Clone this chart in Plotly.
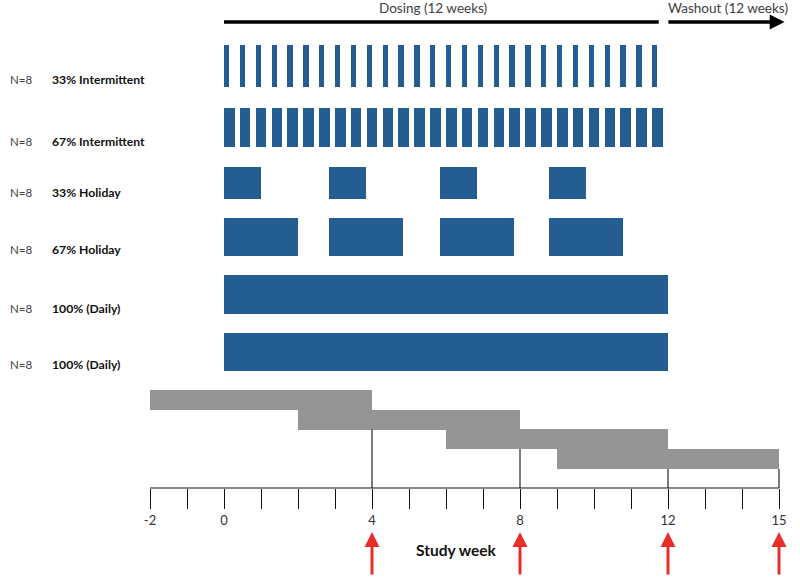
import plotly.graph_objects as go

# ---------------- data ----------------
groups = ["33% Intermittent", "67% Intermittent", "33% Holiday", "67% Holiday",
          "100% (Daily)", "100% (Daily)"]
group_n = ["N=8", "N=8", "N=8", "N=8", "N=8", "N=8"]

# intermittent dosing: dose start day (one cycle every 3 days over 12 weeks)
int_start_day = [0, 3, 6, 9, 12, 15, 18, 21, 24, 27, 30, 33, 36, 39,
                 42, 45, 48, 51, 54, 57, 60, 63, 66, 69, 72, 75, 78, 81]
int33_len_day = 1
int67_len_day = 2

# holiday dosing: block start week and block length (weeks)
hol_start_wk = [0, 2.85, 5.84, 8.79]
hol33_len_wk = [1, 1, 1, 1]
hol67_len_wk = [2, 2, 2, 2]

# daily dosing
daily_start_wk = [0]
daily_len_wk = [12]

# study-week staircase (grey): start and end weeks
stair_start = [-2, 2, 6, 9]
stair_end = [4, 8, 12, 15]

# axis ticks
tick_vals = list(range(-2, 16))
tick_labels = ["-2", "", "0", "", "", "", "4", "", "", "", "8", "", "", "", "12", "", "", "15"]

# visit weeks (red arrows)
visit_weeks = [4, 8, 12, 15]

# period spans (weeks)
dosing_span = [0, 11.75]
washout_span = [11.97, 15.15]
period_labels = ["Dosing (12 weeks)", "Washout (12 weeks)"]
period_label_x = [5.66, 13.61]

# ---------------- layout constants (pixel-like y units) ----------------
W, H = 800, 578
PX_PER_WK = 37.0
X0_PX = 224.0
x_range = [-X0_PX / PX_PER_WK, (W - X0_PX) / PX_PER_WK]

row_center = [66, 127.5, 183, 237, 294.5, 352]
row_height = [42, 39, 32, 38, 39, 38]
label_y = [79, 141, 192, 249, 308, 364]
stair_center = [400, 419.5, 439, 459]
stair_height = 20
axis_y = 488
arrow_tip_y, arrow_base_y = 532, 576
top_line_y = 22

BLUE = "#245d91"
GREY = "#959595"
FONT = "Lato"

fig = go.Figure()

def add_bars(starts, lengths, row):
    fig.add_trace(go.Bar(
        orientation="h", base=starts, x=lengths,
        y=[row_center[row]] * len(starts), width=row_height[row],
        marker=dict(color=BLUE, line=dict(width=0)),
        showlegend=False, hoverinfo="skip"))

add_bars([d / 7 for d in int_start_day], [int33_len_day / 7] * len(int_start_day), 0)
add_bars([d / 7 for d in int_start_day], [int67_len_day / 7] * len(int_start_day), 1)
add_bars(hol_start_wk, hol33_len_wk, 2)
add_bars(hol_start_wk, hol67_len_wk, 3)
add_bars(daily_start_wk, daily_len_wk, 4)
add_bars(daily_start_wk, daily_len_wk, 5)

# grey staircase
fig.add_trace(go.Bar(
    orientation="h", base=stair_start,
    x=[e - s for s, e in zip(stair_start, stair_end)],
    y=stair_center, width=stair_height,
    marker=dict(color=GREY, line=dict(width=0)),
    showlegend=False, hoverinfo="skip"))

shapes = []
# axis line
shapes.append(dict(type="line", xref="x", yref="y", x0=tick_vals[0], x1=tick_vals[-1],
                   y0=axis_y, y1=axis_y, line=dict(color="#111", width=1.2)))
# vertical drop lines at end of each stair step
for e in stair_end:
    bottoms = [c + stair_height / 2 for s, en, c in zip(stair_start, stair_end, stair_center)
               if s <= e <= en]
    shapes.append(dict(type="line", xref="x", yref="y", x0=e, x1=e,
                       y0=max(bottoms), y1=axis_y, line=dict(color="#111", width=1.1)))
# dosing line
shapes.append(dict(type="line", xref="x", yref="y", x0=dosing_span[0], x1=dosing_span[1],
                   y0=top_line_y, y1=top_line_y, line=dict(color="black", width=3.5)))

annotations = []
# washout arrow
annotations.append(dict(x=washout_span[1], y=top_line_y, ax=washout_span[0], ay=top_line_y,
                        xref="x", yref="y", axref="x", ayref="y", text="",
                        showarrow=True, arrowhead=2, arrowsize=0.85, arrowwidth=3.5,
                        arrowcolor="black", standoff=0))
for lbl, lx in zip(period_labels, period_label_x):
    annotations.append(dict(x=lx, y=8, xref="x", yref="y", text=lbl, showarrow=False,
                            font=dict(family=FONT, size=13.5, color="#404040")))
# visit arrows
for v in visit_weeks:
    annotations.append(dict(x=v, y=arrow_tip_y, ax=v, ay=arrow_base_y,
                            xref="x", yref="y", axref="x", ayref="y", text="",
                            showarrow=True, arrowhead=2, arrowsize=1.0, arrowwidth=3,
                            arrowcolor="#e8302a", standoff=0))
annotations.append(dict(x=(456 - X0_PX) / PX_PER_WK, y=550, xref="x", yref="y",
                        text="<b>Study week</b>", showarrow=False,
                        font=dict(family=FONT, size=15.5, color="#111")))
# group labels
for n, g, ly in zip(group_n, groups, label_y):
    annotations.append(dict(x=8 / W, y=ly, xref="paper", yref="y", text=n, showarrow=False,
                            xanchor="left", font=dict(family=FONT, size=11.5, color="#404040")))
    annotations.append(dict(x=50 / W, y=ly, xref="paper", yref="y", text="<b>" + g + "</b>",
                            showarrow=False, xanchor="left",
                            font=dict(family=FONT, size=12.2, color="#111")))

fig.update_layout(
    width=W, height=H,
    margin=dict(l=0, r=0, t=0, b=0, autoexpand=False),
    paper_bgcolor="white", plot_bgcolor="white",
    barmode="overlay", bargap=0,
    shapes=shapes, annotations=annotations,
    xaxis=dict(range=x_range, anchor="free", position=(H - axis_y) / H,
               showgrid=False, zeroline=False, showline=False,
               ticks="outside", ticklen=20, tickwidth=1, tickcolor="#111",
               tickvals=tick_vals, ticktext=tick_labels,
               tickfont=dict(family=FONT, size=13, color="#333"), fixedrange=True),
    yaxis=dict(range=[H, 0], visible=False, fixedrange=True),
)

fig.write_html("out.html", config={"displayModeBar": False},
               post_script="document.body.style.margin='0px';document.body.style.overflow='hidden';")
